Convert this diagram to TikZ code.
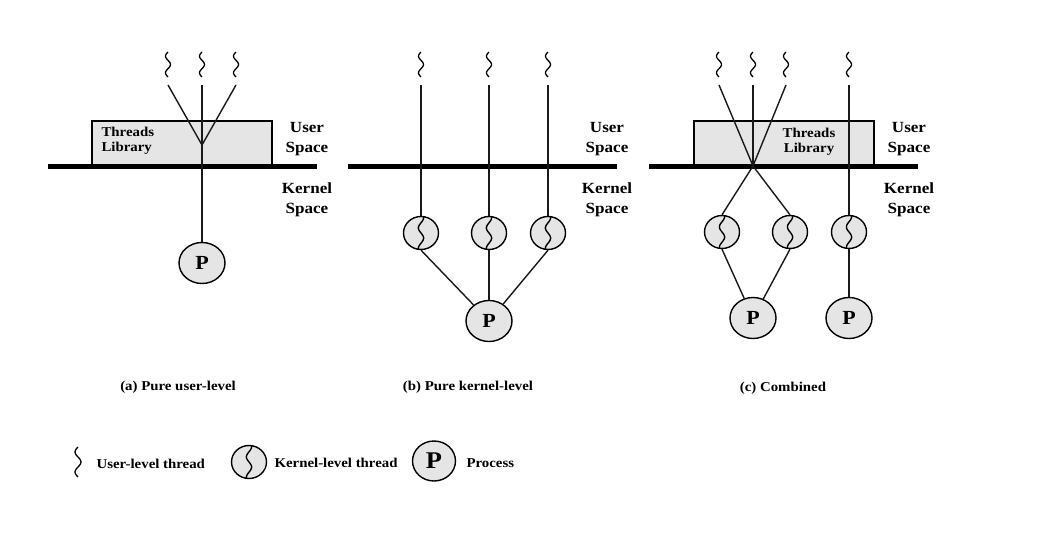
\documentclass[tikz,border=0pt]{standalone}
\usepackage{fontspec}
\setmainfont{Liberation Serif}[FakeStretch=1.1]
\usetikzlibrary{shapes.geometric}
\begin{document}
\begin{tikzpicture}[x=1pt,y=-1pt,
  ln/.style={line width=1.4pt, draw=black!90},
  bar/.style={line width=5pt},
  libbox/.style={draw, line width=1.4pt, fill=gray!20, minimum width=180pt, minimum height=45pt, inner sep=0pt, outer sep=0pt},
  kthr/.style={ellipse, draw, line width=1.4pt, fill=gray!20, minimum width=35pt, minimum height=33pt, inner sep=0pt,
    path picture={\draw[line width=1.4pt, shift={(path picture bounding box.center)}] plot[smooth, variable=\t, domain=-1:1, samples=31] ({2.6*sin(300*\t)}, {17*\t});}},
  proc/.style={ellipse, draw, line width=1.4pt, fill=gray!20, minimum width=46pt, minimum height=41pt, inner sep=0pt, font=\fontsize{20}{20}\selectfont\bfseries},
  lbl/.style={font=\fontsize{15.5}{20}\selectfont\bfseries, align=center, anchor=base},
  liblbl/.style={font=\fontsize{13.5}{15.5}\selectfont\bfseries, anchor=base},
  captxt/.style={font=\fontsize{13.5}{15}\selectfont\bfseries, anchor=base},
  leg/.style={font=\fontsize{13.5}{16}\selectfont\bfseries, anchor=base west},
  uthr/.pic={\draw[line width=1.3pt] plot[smooth, variable=\t, domain=0:1, samples=25] ({-2.5*sin(540*\t)}, {25*\t});}
]
\useasboundingbox (0,0) rectangle (1043,534);

% ---------- (a) ----------
\node[libbox] (alib) at (182,143.5) {};
\draw[bar] (48,166.5) -- (317,166.5);
\node[liblbl, anchor=base west, align=left] (alibt) at (98,152) {Threads\\Library};
\pic at (168,52) {uthr};
\pic at (202,52) {uthr};
\pic at (236,52) {uthr};
\coordinate (a1) at (168,85);
\coordinate (a2) at (202,85);
\coordinate (a3) at (236,85);
\coordinate (aj) at (202,145);
\node[proc] (ap) at (202,263) {P};
\draw[ln] (a1) -- (aj) -- (a3);
\draw[ln] (a2) -- (ap);
\node[lbl] (aus) at (307,153) {User\\Space};
\node[lbl] (aks) at (307,214) {Kernel\\Space};
\node[captxt] (acap) at (178,390) {(a) Pure user-level};

% ---------- (b) ----------
\draw[bar] (348,166.5) -- (617,166.5);
\pic at (421,52) {uthr};
\pic at (489,52) {uthr};
\pic at (548,52) {uthr};
\coordinate (b1) at (421,85);
\coordinate (b2) at (489,85);
\coordinate (b3) at (548,85);
\node[kthr] (bk1) at (421,233) {};
\node[kthr] (bk2) at (489,233) {};
\node[kthr] (bk3) at (548,233) {};
\node[proc] (bp) at (489,321) {P};
\draw[ln] (b1) -- (bk1.north);
\draw[ln] (b2) -- (bk2.north);
\draw[ln] (b3) -- (bk3.north);
\draw[ln] (bk1.south) -- (bp);
\draw[ln] (bk2.south) -- (bp.north);
\draw[ln] (bk3.south) -- (bp);
\node[lbl] (bus) at (607,153) {User\\Space};
\node[lbl] (bks) at (607,214) {Kernel\\Space};
\node[captxt] (bcap) at (468,390) {(b) Pure kernel-level};

% ---------- (c) ----------
\node[libbox] (clib) at (784,143.5) {};
\draw[bar] (649,166.5) -- (918,166.5);
\node[liblbl, align=center] (clibt) at (809,153) {Threads\\Library};
\pic at (719,52) {uthr};
\pic at (753,52) {uthr};
\pic at (786,52) {uthr};
\pic at (849,52) {uthr};
\coordinate (c1) at (719,85);
\coordinate (c2) at (753,85);
\coordinate (c3) at (786,85);
\coordinate (c4) at (849,85);
\coordinate (cx) at (753,166);
\node[kthr] (ck1) at (722,232) {};
\node[kthr] (ck2) at (790,232) {};
\node[kthr] (ck3) at (849,232) {};
\node[proc] (cp1) at (753,318) {P};
\node[proc] (cp2) at (849,318) {P};
\draw[ln] (c1) -- (cx) -- (ck2.north);
\draw[ln] (c3) -- (cx) -- (ck1.north);
\draw[ln] (c2) -- (cx);
\draw[ln] (c4) -- (ck3.north);
\draw[ln] (ck3.south) -- (cp2.north);
\draw[ln] (ck1.south) -- (cp1);
\draw[ln] (ck2.south) -- (cp1);
\node[lbl] (cus) at (909,153) {User\\Space};
\node[lbl] (cks) at (909,214) {Kernel\\Space};
\node[captxt] (ccap) at (783,391) {(c) Combined};

% ---------- legend ----------
\pic[scale=1.2] at (78,447) {uthr};
\node[leg] (lt1) at (93,468) {User-level thread};
\node[kthr] (lk) at (249,462) {};
\node[leg] (lt2) at (271,467) {Kernel-level thread};
\node[proc, font=\fontsize{24}{24}\selectfont\bfseries, minimum width=43pt, minimum height=40pt] (lp) at (434,461) {P};
\node[leg] (lt3) at (463,467) {Process};
\end{tikzpicture}
\end{document}
